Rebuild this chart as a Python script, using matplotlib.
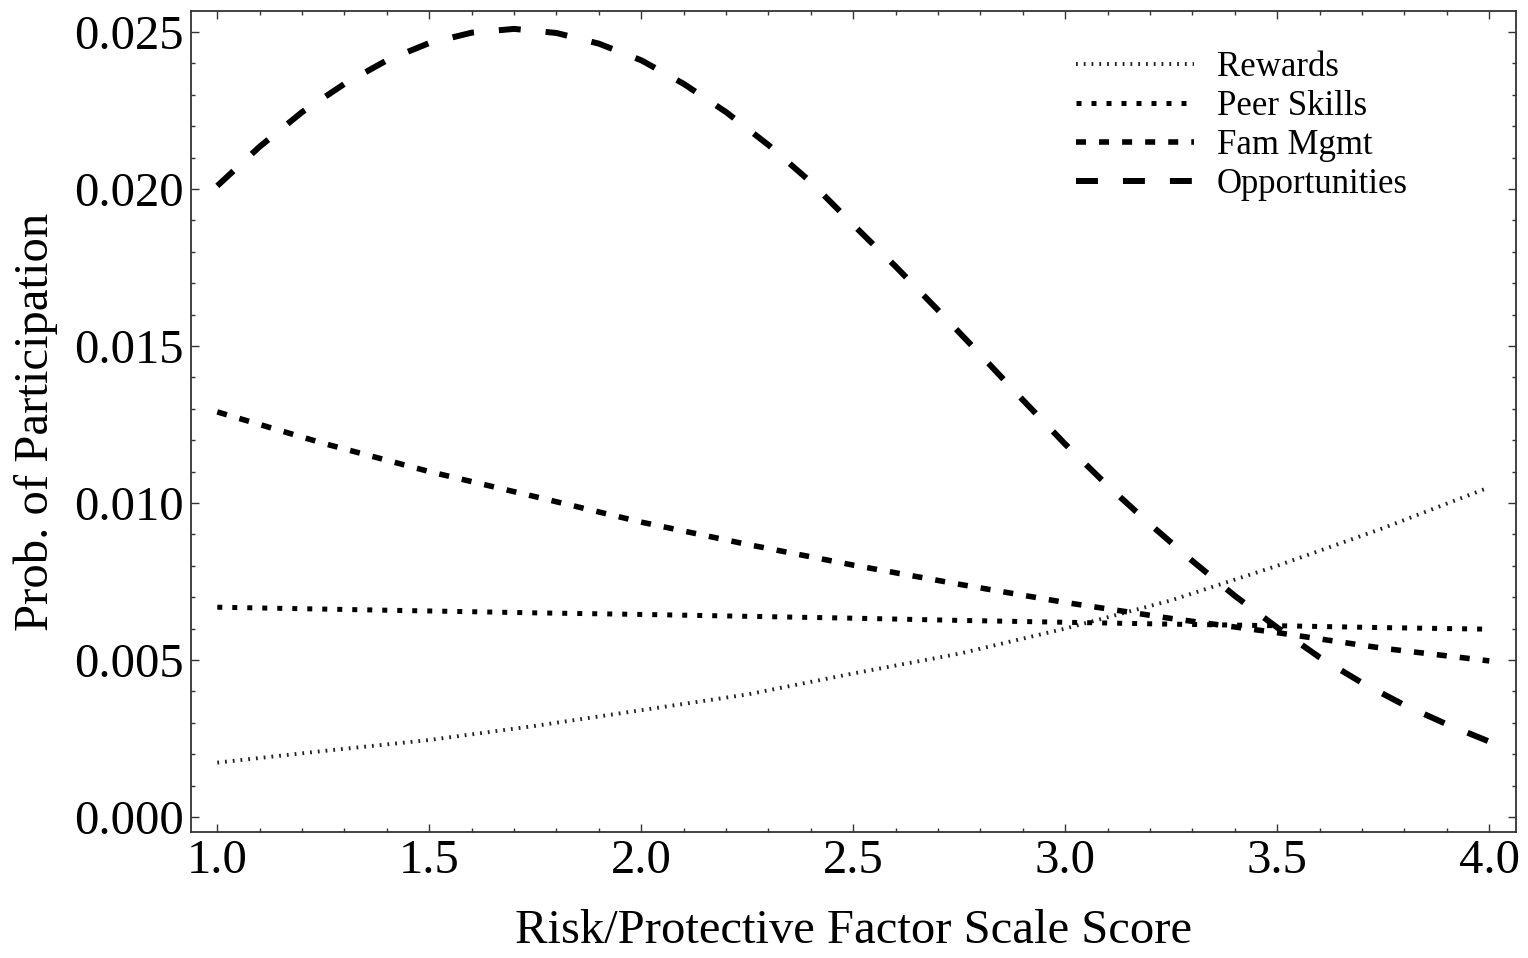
import numpy as np
import matplotlib
matplotlib.use("Agg")
import matplotlib.pyplot as plt
from matplotlib.ticker import MultipleLocator, FormatStrFormatter

# values
x_opp = [1.0, 1.1, 1.2, 1.3, 1.4, 1.5, 1.6, 1.7, 1.8, 1.9, 2.0,
         2.1, 2.2, 2.3, 2.4, 2.5, 2.6, 2.7, 2.8, 2.9, 3.0,
         3.1, 3.2, 3.3, 3.4, 3.5, 3.6, 3.7, 3.8, 3.9, 4.0]
opportunities = [0.0201, 0.02135, 0.02245, 0.02335, 0.0241, 0.02465, 0.02498, 0.0251,
                 0.02497, 0.02463, 0.0241, 0.02335, 0.02245, 0.0214, 0.02022, 0.01886,
                 0.01753, 0.01614, 0.01472, 0.01328, 0.01187, 0.01055, 0.00932, 0.00815,
                 0.00704, 0.00603, 0.00508, 0.00427, 0.00356, 0.00295, 0.0024]

x_q = [1.0, 1.25, 1.5, 1.75, 2.0, 2.25, 2.5, 2.75, 3.0, 3.25, 3.5, 3.75, 4.0]
rewards = [0.00173, 0.0021, 0.00245, 0.0029, 0.0034, 0.0039, 0.00457,
           0.0052, 0.0060, 0.0069, 0.0080, 0.0092, 0.0105]
peer_skills = [0.00668, 0.00662, 0.00656, 0.0065, 0.00645, 0.00639, 0.00633,
               0.00626, 0.0062, 0.00614, 0.00609, 0.00603, 0.00598]
fam_mgmt = [0.0129, 0.0119, 0.0110, 0.0102, 0.00939, 0.00868, 0.00802,
            0.00741, 0.00683, 0.00632, 0.00587, 0.00537, 0.00497]

labels = ['Rewards', 'Peer Skills', 'Fam Mgmt', 'Opportunities']

plt.rcParams['font.family'] = ['Liberation Serif', 'DejaVu Serif']
plt.rcParams['lines.scale_dashes'] = False

fig = plt.figure(figsize=(15.28, 9.58), dpi=100)
ax = fig.add_axes([191/1528, 1 - 832/958, (1516-191)/1528, (832-11)/958])

ax.plot(x_q, rewards, color='#222222', lw=2.8, linestyle=(0, (1.3, 4.3)), label=labels[0])
ax.plot(x_q, peer_skills, color='black', lw=3.6, linestyle=(0, (3.6, 7.2)), label=labels[1])
ax.plot(x_q, fam_mgmt, color='black', lw=4.0, linestyle=(0, (7.2, 9.4)), label=labels[2])
ax.plot(x_opp, opportunities, color='black', lw=4.3, linestyle=(0, (15.8, 18.0)), label=labels[3])

ax.set_xlim(0.938, 4.063)
ax.set_ylim(-0.00048, 0.02567)

ax.xaxis.set_major_locator(MultipleLocator(0.5))
ax.xaxis.set_minor_locator(MultipleLocator(0.1))
ax.yaxis.set_major_locator(MultipleLocator(0.005))
ax.yaxis.set_minor_locator(MultipleLocator(0.001))
ax.xaxis.set_major_formatter(FormatStrFormatter('%.1f'))
ax.yaxis.set_major_formatter(FormatStrFormatter('%.3f'))

ax.tick_params(which='both', direction='in', top=True, right=True, color='#333333', width=1.0)
ax.tick_params(which='major', length=6, labelsize=35, pad=5)
ax.tick_params(which='minor', length=3.2)
for s in ax.spines.values():
    s.set_color('#333333')
    s.set_linewidth(1.3)

ax.set_xlabel('Risk/Protective Factor Scale Score', fontsize=35, labelpad=19)
ax.set_ylabel('Prob. of Participation', fontsize=35, labelpad=12)

leg = ax.legend(loc='upper left', bbox_to_anchor=(1076/1528, 1 - 51/958),
                bbox_transform=fig.transFigure, frameon=False, fontsize=25,
                handlelength=3.4, handletextpad=0.65, labelspacing=0.17,
                borderpad=0, borderaxespad=0)

fig.savefig('out.png', dpi=100)
